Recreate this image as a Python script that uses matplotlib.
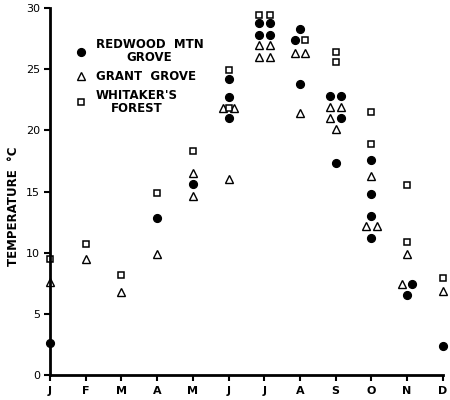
import matplotlib
matplotlib.use("Agg")
import matplotlib.pyplot as plt

months = ["J", "F", "M", "A", "M", "J", "J", "A", "S", "O", "N", "D"]
y_ticks = [0, 5, 10, 15, 20, 25, 30]

# Redwood Mtn Grove (filled circles): month index, temperature, dodge side (-1 left, 0 centre, 1 right)
redwood_month = [0, 3, 4, 5, 5, 5, 6, 6, 6, 6, 7, 7, 7, 8, 8, 8, 8, 9, 9, 9, 9, 10, 10, 11]
redwood_temp = [2.6, 12.8, 15.6, 24.2, 22.7, 21.0, 28.8, 28.8, 27.8, 27.8, 28.3, 27.4, 23.8,
                22.8, 22.8, 21.0, 17.3, 17.6, 14.8, 13.0, 11.2, 7.4, 6.5, 2.4]
redwood_side = [0, 0, 0, 0, 0, 0, -1, 1, -1, 1, 0, -1, 0, -1, 1, 1, 0, 0, 0, 0, 0, 1, 0, 0]

# Grant Grove (open triangles)
grant_month = [0, 1, 2, 3, 4, 4, 5, 5, 5, 6, 6, 6, 6, 7, 7, 7, 8, 8, 8, 8, 9, 9, 9, 10, 10, 11]
grant_temp = [7.6, 9.5, 6.8, 9.9, 16.5, 14.6, 21.8, 21.8, 16.0, 27.0, 27.0, 26.0, 26.0,
              26.3, 26.3, 21.4, 21.9, 21.9, 21.0, 20.1, 16.3, 12.2, 12.2, 9.9, 7.4, 6.9]
grant_side = [0, 0, 0, 0, 0, 0, -1, 1, 0, -1, 1, -1, 1, -1, 1, 0, -1, 1, -1, 0, 0, -1, 1, 0, -1, 0]

# Whitaker's Forest (open squares)
whit_month = [0, 1, 2, 3, 4, 5, 5, 6, 6, 7, 8, 8, 9, 9, 10, 10, 11]
whit_temp = [9.5, 10.7, 8.2, 14.9, 18.3, 24.9, 21.8, 29.4, 29.4, 27.4, 26.4, 25.6,
             21.5, 18.9, 15.5, 10.9, 7.9]
whit_side = [0, 0, 0, 0, 0, 0, 0, -1, 1, 1, 0, 0, 0, 0, 0, 0, 0]

DODGE = 0.15

def xs(month, side):
    return [m + s * DODGE for m, s in zip(month, side)]

fig = plt.figure(figsize=(4.5, 4.0), dpi=100)
ax = fig.add_axes([0.111, 0.0625, 0.873, 0.9175])

ax.plot(xs(redwood_month, redwood_side), redwood_temp, linestyle="none", marker="o",
        markersize=5.6, color="black", clip_on=False, label="REDWOOD  MTN\nGROVE")
ax.plot(xs(grant_month, grant_side), grant_temp, linestyle="none", marker="^",
        markersize=6.2, markerfacecolor="white", markeredgecolor="black", markeredgewidth=1.0,
        clip_on=False, label="GRANT  GROVE")
ax.plot(xs(whit_month, whit_side), whit_temp, linestyle="none", marker="s",
        markersize=5.0, markerfacecolor="white", markeredgecolor="black", markeredgewidth=1.1,
        clip_on=False, label="WHITAKER'S\nFOREST")

ax.set_xlim(0, 11)
ax.set_ylim(0, 30)
ax.set_xticks(range(len(months)))
ax.set_xticklabels(months, fontweight="bold", fontsize=8)
ax.set_yticks(y_ticks)
ax.set_yticklabels([str(v) for v in y_ticks], fontsize=8)
ax.tick_params(axis="both", direction="out", length=4, width=1.5, pad=3, colors="black")
ax.tick_params(axis="x", pad=4)

for side in ["top", "right"]:
    ax.spines[side].set_visible(False)
for side in ["left", "bottom"]:
    ax.spines[side].set_linewidth(2.0)

ax.set_ylabel("TEMPERATURE  \u00b0C", fontweight="bold", fontsize=8.5)
ax.yaxis.set_label_coords(-0.077, 0.46)

leg = ax.legend(loc="upper left", bbox_to_anchor=(0.05, 0.935), frameon=False,
                handlelength=1.0, handletextpad=0.7, labelspacing=0.5, borderpad=0,
                prop={"weight": "bold", "size": 8.5})
for t in leg.get_texts():
    t.set_multialignment("center")
    t.set_linespacing(1.0)

fig.savefig("out.png", dpi=100)
